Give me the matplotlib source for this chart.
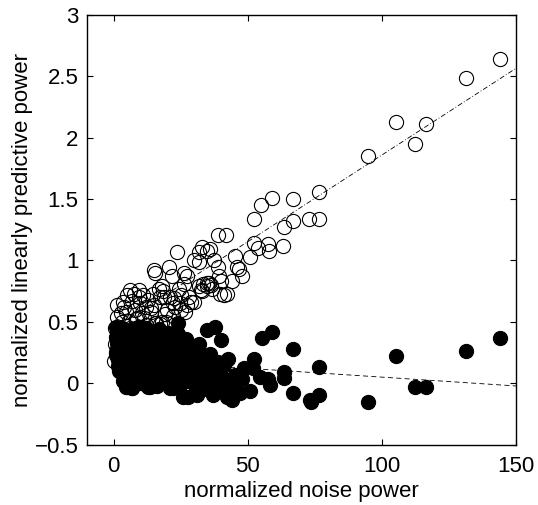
import matplotlib
matplotlib.use("Agg")
import matplotlib.pyplot as plt
from matplotlib.ticker import FuncFormatter
import numpy as np

# open circles: linearly predictive power of the signal
open_x = [143.9, 131.5, 105.3, 116.5, 112.2, 94.7, 76.7, 72.9, 76.7, 59.0,
          66.9, 55.0, 52.5, 66.9, 63.6, 39.1, 42.0, 52.5, 57.5, 54.0,
          63.3, 58.0, 45.3, 50.9, 39.1, 34.7, 35.9, 32.8, 45.9, 46.9,
          47.8, 44.1, 34.7, 35.7, 23.7, 31.8, 30.0, 31.8, 37.4, 20.6,
          15.0, 15.6, 26.2, 27.5, 21.9, 34.9, 36.2, 6.3, 9.4, 16.9,
          18.1, 24.4, 31.8, 39.3, 39.9, 33.4, 32.8, 39.7, 42.2, 41.2,
          1.3, 5.0, 7.5, 2.6, 1.3, 15.6, 18.1, 19.4, 5.7, 8.8,
          11.3, 0.4, 16.0, 17.2, 24.7, 27.2, 26.6, 21.0, 22.2, 14.8,
          17.2, 18.5, 10.0, 12.0, 13.0, 8.0, 9.5, 11.0, 4.0, 3.0,
          20.0, 23.0, 14.0, 19.0, 22.0, 25.0, 12.0, 6.0, 2.0, 1.0,
          0.5, 28.0, 29.0, 4.5, 7.0, 15.0, 26.2, 32.5, 36.8, 22.5,
          13.8, 25.0, 0.3, 18.7, 30.0, 10.5, 3.5, 8.5]
open_y = [2.64, 2.49, 2.13, 2.11, 1.95, 1.85, 1.56, 1.34, 1.34, 1.51,
          1.50, 1.45, 1.34, 1.32, 1.27, 1.21, 1.21, 1.14, 1.13, 1.10,
          1.12, 1.08, 1.04, 1.03, 0.95, 1.08, 1.09, 1.11, 0.95, 0.93,
          0.87, 0.83, 0.82, 0.82, 1.07, 1.07, 1.00, 0.99, 1.00, 0.95,
          0.92, 0.90, 0.90, 0.87, 0.87, 0.79, 0.80, 0.76, 0.76, 0.77,
          0.79, 0.77, 0.79, 0.87, 0.83, 0.81, 0.75, 0.73, 0.73, 0.72,
          0.64, 0.72, 0.73, 0.57, 0.54, 0.49, 0.50, 0.50, 0.51, 0.53,
          0.53, 0.32, 0.49, 0.48, 0.65, 0.64, 0.58, 0.70, 0.65, 0.73,
          0.70, 0.75, 0.65, 0.62, 0.68, 0.60, 0.70, 0.72, 0.62, 0.50,
          0.60, 0.62, 0.58, 0.56, 0.55, 0.72, 0.47, 0.45, 0.40, 0.25,
          0.45, 0.70, 0.66, 0.58, 0.67, 0.64, 0.81, 0.76, 0.77, 0.69,
          0.61, 0.60, 0.18, 0.70, 0.66, 0.57, 0.66, 0.52]

# filled circles: linearly predictive power of the noise
fill_x = [143.9, 131.5, 105.3, 112.2, 116.5, 94.7, 76.7, 76.7, 73.6, 34.7,
          37.8, 39.9, 55.3, 59.0, 66.9, 52.5, 52.1, 54.6, 57.7, 58.3,
          63.6, 63.6, 66.9, 73.3, 45.3, 45.9, 47.8, 44.1, 47.2, 50.9,
          37.2, 42.2, 34.7, 39.1, 37.2, 34.7, 44.1, 24.1, 20.4,
          1.0, 1.2, 0.8, 1.1, 1.3, 0.9, 1.5, 1.8, 2.2,
          3.0, 3.2, 2.8, 3.4, 3.1, 3.6,
          5.0, 5.3, 4.8, 5.5, 5.1,
          7.0, 7.4, 6.8, 7.2, 7.5, 6.9,
          10.0, 10.3, 9.8, 10.5, 10.1,
          13.0, 13.4, 12.8, 13.2, 13.5, 12.9,
          16.0, 16.3, 15.8, 16.5, 16.1,
          19.0, 19.4, 18.8, 19.2, 19.5,
          22.0, 22.3, 21.8, 22.5, 22.1,
          25.0, 25.4, 24.8, 25.2,
          28.0, 28.4, 27.8, 28.2, 27.6,
          31.0, 31.4, 30.8, 30.3, 33.0, 32.0, 36.0, 40.5, 41.0, 42.5,
          21.0, 13.5, 4.8, 6.7,
          30.0, 33.0, 36.0, 38.0, 40.0, 35.0, 31.0, 26.0, 24.0, 27.0,
          12.0, 9.0, 17.0, 8.5, 11.5, 14.5, 18.0, 21.0, 23.5, 2.0,
          4.0, 6.0, 8.5, 26.5, 29.5, 42.0, 48.5]
fill_y = [0.37, 0.26, 0.22, -0.03, -0.03, -0.15, 0.13, -0.10, -0.15, 0.43,
          0.46, 0.35, 0.37, 0.42, 0.28, 0.20, 0.12, 0.05, 0.03, -0.015,
          0.09, 0.04, -0.08, -0.14, 0.07, 0.01, 0.03, -0.10, -0.08, -0.06,
          -0.10, -0.11, 0.16, 0.17, 0.11, 0.03, -0.14, 0.49, 0.41,
          0.46, 0.42, 0.38, 0.33, 0.28, 0.23, 0.19, 0.14, 0.10,
          0.45, 0.36, 0.27, 0.18, 0.08, 0.02,
          0.40, 0.30, 0.20, 0.10, -0.03,
          0.44, 0.34, 0.24, 0.14, 0.04, -0.04,
          0.38, 0.28, 0.18, 0.08, 0.00,
          0.42, 0.32, 0.22, 0.12, 0.02, -0.03,
          0.36, 0.26, 0.16, 0.06, -0.02,
          0.40, 0.30, 0.20, 0.10, 0.00,
          0.34, 0.24, 0.14, 0.04, -0.04,
          0.28, 0.18, 0.08, -0.01,
          0.30, 0.20, 0.10, 0.02, -0.11,
          0.25, 0.12, 0.02, -0.08, 0.19, 0.32, 0.24, 0.05, 0.15, 0.20,
          -0.04, -0.03, -0.03, -0.04,
          0.18, 0.10, 0.22, 0.02, -0.05, -0.05, -0.10, -0.11, 0.40, 0.36,
          0.45, 0.46, 0.44, 0.33, 0.25, 0.29, 0.35, 0.27, 0.20, 0.31,
          0.24, 0.15, 0.07, 0.13, 0.08, 0.01, 0.12]

# linear fits (slope, intercept)
fit_open = (0.01413, 0.446)
fit_fill = (-0.00144, 0.193)
fit_x = [0, 150]

x_ticks = [0, 50, 100, 150]
y_ticks = [-0.5, 0, 0.5, 1, 1.5, 2, 2.5, 3]

plt.rcParams['font.family'] = ['Liberation Sans', 'DejaVu Sans']

fig = plt.figure(figsize=(5.38, 5.05), dpi=100, facecolor='white')
ax = fig.add_axes([0.1612, 0.1198, 0.798, 0.8505])

ax.plot(open_x, open_y, 'o', mfc='none', mec='black', ms=10.2, mew=0.8)
ax.plot(fill_x, fill_y, 'o', mfc='black', mec='black', ms=10.2, mew=0.8)

fx = np.array(fit_x, dtype=float)
ax.plot(fx, fit_open[0] * fx + fit_open[1], color='black', lw=0.6,
        dashes=[6, 2.5, 1, 2.5])
ax.plot(fx, fit_fill[0] * fx + fit_fill[1], color='black', lw=0.6,
        dashes=[6, 4])

ax.set_xlim(-10, 150)
ax.set_ylim(-0.5, 3)
ax.set_xticks(x_ticks)
ax.set_yticks(y_ticks)
ax.yaxis.set_major_formatter(FuncFormatter(lambda v, p: ('%g' % v).replace('-', '\u2212')))
ax.tick_params(direction='in', top=True, right=True, length=4, width=0.8,
               labelsize=16, pad=6)
ax.tick_params(axis='x', pad=8)
for s in ax.spines.values():
    s.set_linewidth(1.0)

ax.set_xlabel('normalized noise power', fontsize=16, labelpad=3)
ax.set_ylabel('normalized linearly predictive power', fontsize=16, labelpad=1)

fig.savefig('out.png', dpi=100, facecolor='white')
